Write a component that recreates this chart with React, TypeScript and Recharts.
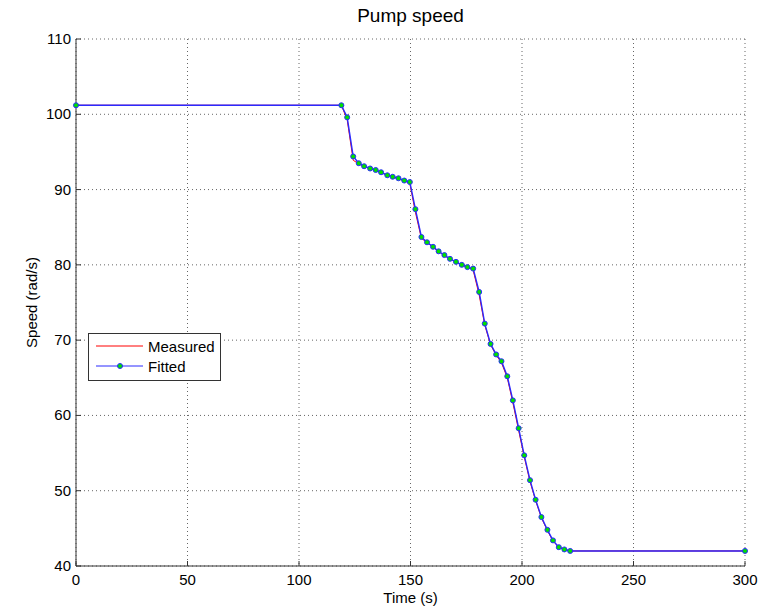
import { LineChart, Line, XAxis, YAxis, CartesianGrid } from "recharts";

const fittedTime = [
  0, 119, 121.6, 124.3, 126.8, 129.2, 131.9, 134.4, 136.8, 139.6, 142, 144.6, 147.2, 149.7,
  152.2, 154.9, 157.4, 160.1, 162.6, 165.2, 167.7, 170.4, 173, 175.5, 178.1, 180.8, 183.3,
  185.9, 188.4, 190.8, 193.4, 195.9, 198.5, 201, 203.6, 206.1, 208.7, 211.4, 213.9, 216.5,
  219, 221.6, 300,
];
const fittedSpeed = [
  101.2, 101.2, 99.6, 94.4, 93.5, 93.1, 92.8, 92.6, 92.3, 91.9, 91.7, 91.5, 91.2, 91.0, 87.4,
  83.7, 83.0, 82.4, 81.8, 81.3, 80.8, 80.4, 80.0, 79.7, 79.5, 76.4, 72.2, 69.5, 68.1, 67.2,
  65.2, 62.0, 58.3, 54.7, 51.4, 48.8, 46.5, 44.8, 43.4, 42.5, 42.2, 42.0, 42.0,
];
const measuredSpeed = [
  101.2, 101.2, 99.3, 93.9, 93.4, 93.1, 92.8, 92.5, 92.3, 91.9, 91.7, 91.4, 91.2, 90.8, 87.0,
  83.5, 83.0, 82.3, 81.8, 81.2, 80.8, 80.4, 80.0, 79.7, 79.3, 76.0, 72.0, 69.4, 68.0, 67.0,
  65.0, 61.7, 58.0, 54.5, 51.2, 48.7, 46.4, 44.7, 43.3, 42.5, 42.2, 42.0, 42.0,
];
const xTicks = [0, 50, 100, 150, 200, 250, 300];
const yTicks = [40, 50, 60, 70, 80, 90, 100, 110];

const FONT = "'Liberation Sans', Arial, sans-serif";

const fitted = fittedTime.map((t, i) => ({ t, v: fittedSpeed[i] }));
const measured = fittedTime.map((t, i) => ({ t, v: measuredSpeed[i] }));

function XTick(props: any) {
  const { x, y, payload } = props;
  return (
    <g>
      <line x1={x} y1={y} x2={x} y2={y - 5} stroke="#333" />
      <text x={x} y={y + 19} textAnchor="middle" fontSize={15} fontFamily={FONT} fill="#000">
        {payload.value}
      </text>
    </g>
  );
}

function YTick(props: any) {
  const { x, y, payload } = props;
  return (
    <g>
      <line x1={x} y1={y} x2={x + 5} y2={y} stroke="#333" />
      <text x={x - 5} y={y + 5} textAnchor="end" fontSize={15} fontFamily={FONT} fill="#000">
        {payload.value}
      </text>
    </g>
  );
}

function LegendBox() {
  return (
    <svg width={133} height={48} style={{ display: "block" }}>
      <rect x={0.5} y={0.5} width={132} height={47} fill="#fff" stroke="#333" />
      <line x1={8} y1={13} x2={55} y2={13} stroke="#ff0000" />
      <text x={60} y={19} fontSize={15} fontFamily={FONT} fill="#000">Measured</text>
      <line x1={8} y1={33} x2={55} y2={33} stroke="#2a2aff" />
      <circle cx={32} cy={33} r={2.5} fill="#00e000" stroke="#2a2aff" />
      <text x={60} y={39} fontSize={15} fontFamily={FONT} fill="#000">Fitted</text>
    </svg>
  );
}

export default function App() {
  return (
    <div style={{ position: "relative", width: 772, height: 608, background: "#fff" }}>
      <style>{"body{margin:0}"}</style>
      <div
        style={{
          position: "absolute",
          top: 4,
          left: 76,
          width: 669,
          textAlign: "center",
          fontFamily: FONT,
          fontSize: 19,
          lineHeight: "24px",
        }}
      >
        Pump speed
      </div>
      <LineChart width={772} height={608} margin={{ top: 39, right: 27, left: 0, bottom: 0 }}>
        <CartesianGrid stroke="#666" strokeDasharray="1 3" horizontalValues={yTicks} verticalValues={xTicks} />
        <XAxis
          dataKey="t"
          type="number"
          domain={[0, 300]}
          ticks={xTicks}
          height={42}
          tickSize={0}
          tickMargin={0}
          tick={<XTick />}
          stroke="#333"
          label={{
            content: (p: any) => {
              const vb = p.viewBox;
              return (
                <text x={vb.x + vb.width / 2} y={603} textAnchor="middle" fontSize={15} fontFamily={FONT}>
                  Time (s)
                </text>
              );
            },
          }}
        />
        <YAxis
          type="number"
          domain={[40, 110]}
          ticks={yTicks}
          width={76}
          tickSize={0}
          tickMargin={0}
          tick={<YTick />}
          stroke="#333"
          label={{
            content: (p: any) => {
              const vb = p.viewBox;
              const cy = vb.y + vb.height / 2;
              return (
                <text
                  x={37}
                  y={cy}
                  transform={`rotate(-90 37 ${cy})`}
                  textAnchor="middle"
                  fontSize={15}
                  fontFamily={FONT}
                >
                  Speed (rad/s)
                </text>
              );
            },
          }}
        />
        <Line
          data={measured}
          dataKey="v"
          name="Measured"
          stroke="#ff0000"
          strokeWidth={1}
          dot={false}
          isAnimationActive={false}
        />
        <Line
          data={fitted}
          dataKey="v"
          name="Fitted"
          stroke="#2a2aff"
          strokeWidth={1.4}
          dot={{ r: 2.5, fill: "#00e000", stroke: "#2a2aff", strokeWidth: 1 }}
          isAnimationActive={false}
        />
      </LineChart>
      <div style={{ position: "absolute", left: 88, top: 333 }}>
        <LegendBox />
      </div>
    </div>
  );
}
